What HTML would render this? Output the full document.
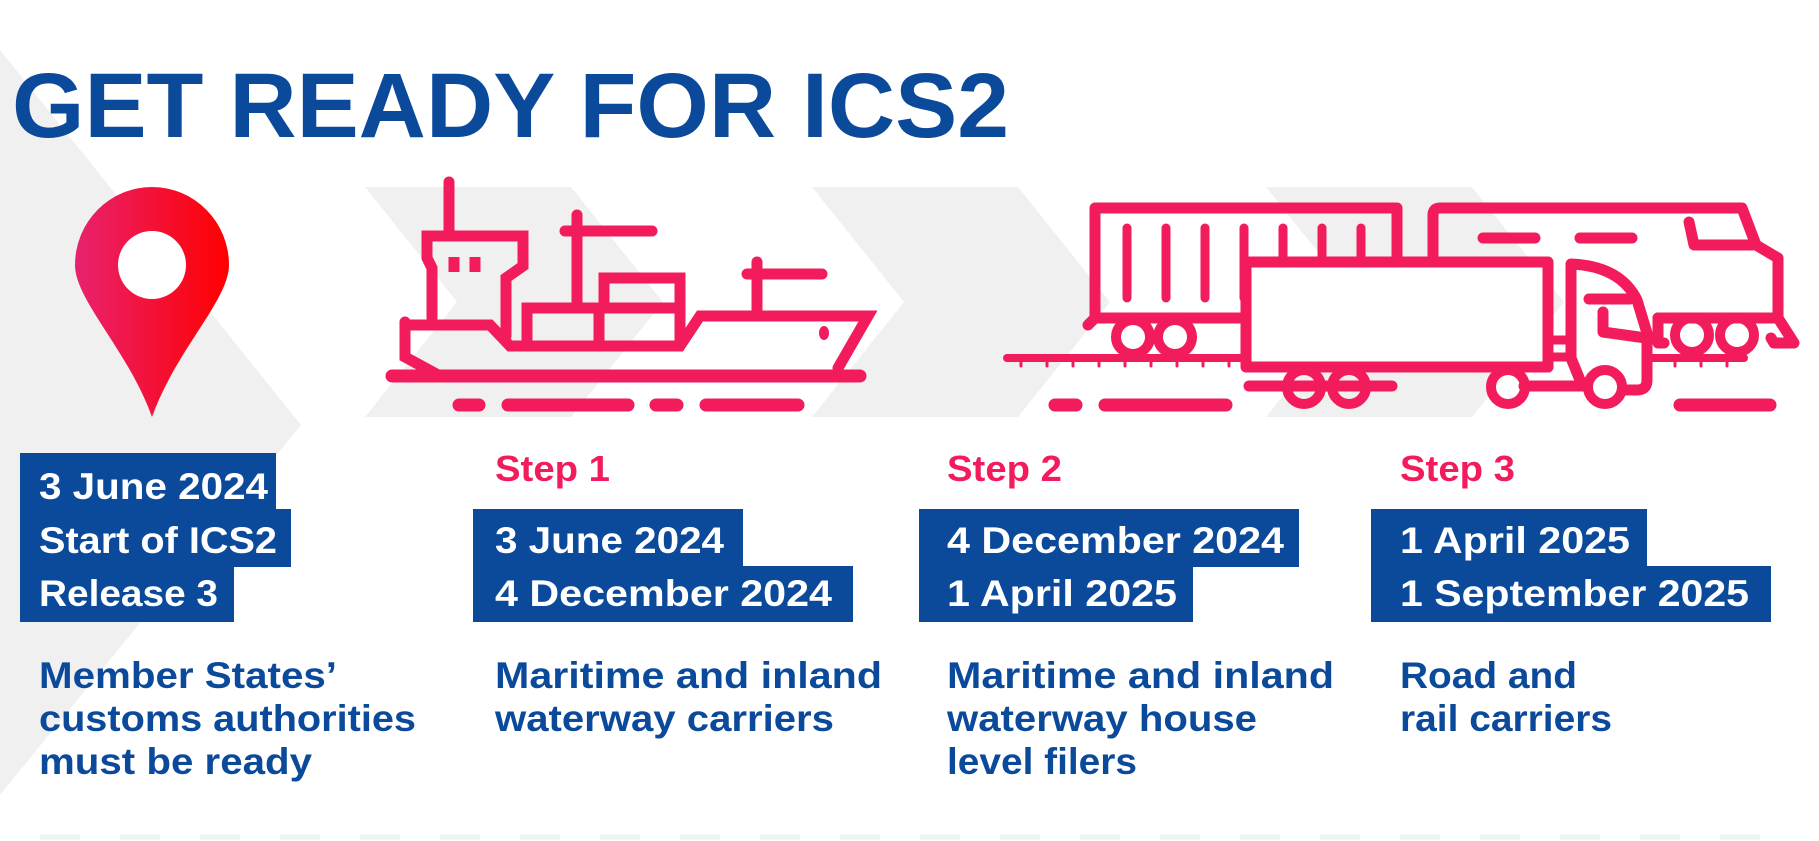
<!DOCTYPE html>
<html><head><meta charset="utf-8"><style>
html,body{margin:0;padding:0;background:#fff;}
svg{display:block;}
text{font-family:"Liberation Sans",Arial,sans-serif;font-weight:bold;}
</style></head><body>
<svg width="1819" height="841" viewBox="0 0 1819 841" xmlns="http://www.w3.org/2000/svg">
<defs>
<linearGradient id="pg" x1="0" x2="1" y1="0" y2="0"><stop offset="0" stop-color="#e8226f"/><stop offset="1" stop-color="#ff0000"/></linearGradient>
</defs>
<rect width="1819" height="841" fill="#fff"/>
<polygon points="0,50 301,425 0,795" fill="#f0f0f0"/>
<polygon points="365,187 571,187 663,302 571,417 365,417 457,302" fill="#f0f0f0"/>
<polygon points="812,187 1018,187 1110,302 1018,417 812,417 904,302" fill="#f0f0f0"/>
<polygon points="1266,187 1472,187 1564,302 1472,417 1266,417 1358,302" fill="#f0f0f0"/>
<g stroke="#f2f2f2" stroke-width="5">
<line x1="40" y1="837" x2="1780" y2="837" stroke-dasharray="40 40"/>
</g>
<text x="12" y="137" font-size="92" fill="#0b4a9b" textLength="997" lengthAdjust="spacingAndGlyphs">GET READY FOR ICS2</text>
<path d="M152 417 C128 350 75 300 75 265 A77 78 0 1 1 229 265 C229 300 176 350 152 417 Z" fill="url(#pg)"/>
<circle cx="152" cy="265" r="34" fill="#fff"/>
<g fill="none" stroke="#f21b5b" stroke-width="11" stroke-linecap="round" stroke-linejoin="miter">
<line x1="449" y1="182" x2="449" y2="232"/>
<path d="M432 318 V268 L427 258 V236 H523 V266 L506 278 V336"/>
<line x1="454" y1="257" x2="454" y2="272" stroke-linecap="butt"/>
<line x1="475" y1="257" x2="475" y2="272" stroke-linecap="butt"/>
<path d="M405 325 H490 L510 346 H680 L700 316 H868 L838 368"/>
<path d="M405 322 V357 L440 376"/>
<line x1="392" y1="376" x2="860" y2="376" stroke-width="13"/>
<path d="M527 340 V308 H599 V340"/>
<path d="M604 308 V278 H680 V340"/>
<line x1="599" y1="308" x2="680" y2="308"/>
<line x1="577" y1="215" x2="577" y2="302"/>
<line x1="565" y1="231" x2="652" y2="231"/>
<line x1="757" y1="262" x2="757" y2="310"/>
<line x1="747" y1="274" x2="822" y2="274"/>
<g stroke-width="13">
<line x1="459" y1="405" x2="479" y2="405"/>
<line x1="508" y1="405" x2="628" y2="405"/>
<line x1="656" y1="405" x2="677" y2="405"/>
<line x1="706" y1="405" x2="798" y2="405"/>
</g>
</g>
<ellipse cx="824" cy="333" rx="5" ry="7" fill="#f21b5b"/>
<g fill="none" stroke="#f21b5b" stroke-width="11" stroke-linecap="round" stroke-linejoin="round">
<path d="M1095 318 V208 H1397 V258"/>
<line x1="1095" y1="318" x2="1246" y2="318"/>
<line x1="1088" y1="325" x2="1095" y2="318"/>
<g stroke-width="9">
<line x1="1127" y1="228" x2="1127" y2="298"/>
<line x1="1166" y1="228" x2="1166" y2="298"/>
<line x1="1205" y1="228" x2="1205" y2="298"/>
<line x1="1244" y1="228" x2="1244" y2="298"/>
<line x1="1283" y1="228" x2="1283" y2="258"/>
<line x1="1322" y1="228" x2="1322" y2="258"/>
<line x1="1361" y1="228" x2="1361" y2="258"/>
</g>
<circle cx="1133" cy="337" r="17" stroke-width="10"/>
<circle cx="1175" cy="337" r="17" stroke-width="10"/>
<line x1="1007" y1="358" x2="1246" y2="358" stroke-width="8"/>
<line x1="1653" y1="358" x2="1744" y2="358" stroke-width="8"/>
<g stroke-width="3">
<line x1="1021" y1="360" x2="1021" y2="366"/><line x1="1047" y1="360" x2="1047" y2="366"/><line x1="1073" y1="360" x2="1073" y2="366"/><line x1="1099" y1="360" x2="1099" y2="366"/><line x1="1125" y1="360" x2="1125" y2="366"/><line x1="1151" y1="360" x2="1151" y2="366"/><line x1="1177" y1="360" x2="1177" y2="366"/><line x1="1203" y1="360" x2="1203" y2="366"/><line x1="1229" y1="360" x2="1229" y2="366"/>
<line x1="1675" y1="360" x2="1675" y2="366"/><line x1="1701" y1="360" x2="1701" y2="366"/><line x1="1727" y1="360" x2="1727" y2="366"/>
</g>
<path d="M1433 258 V215 Q1433 208 1440 208 H1742 L1756 245 L1778 258 V317"/>
<line x1="1658" y1="318" x2="1778" y2="318"/>
<path d="M1658 318 V343 H1664"/>
<path d="M1689 222 L1694 245 H1752"/>
<line x1="1483" y1="238" x2="1535" y2="238"/>
<line x1="1580" y1="238" x2="1632" y2="238"/>
<circle cx="1692" cy="335" r="17" stroke-width="10"/>
<circle cx="1737" cy="335" r="17" stroke-width="10"/>
<path d="M1778 318 L1794 343 H1774 L1771 338"/>
<rect x="1246" y="262" width="302" height="105" fill="#fff"/>
<line x1="1249" y1="386" x2="1392" y2="386"/>
<circle cx="1304" cy="387" r="17" stroke-width="10"/>
<circle cx="1349" cy="387" r="17" stroke-width="10"/>
<path d="M1571 358 V264 Q1620 266 1637 300 L1647 333 V380 Q1647 390 1637 390 H1625"/>
<line x1="1548" y1="340" x2="1571" y2="340" stroke-width="9"/>
<line x1="1548" y1="357" x2="1571" y2="357" stroke-width="9"/>
<line x1="1571" y1="358" x2="1582" y2="385"/>
<line x1="1589" y1="299" x2="1630" y2="299"/>
<path d="M1603 312 V332 L1646 338"/>
<line x1="1524" y1="386" x2="1586" y2="386"/>
<line x1="1548" y1="367" x2="1512" y2="367"/>
<circle cx="1508" cy="387" r="17" stroke-width="10"/>
<circle cx="1605" cy="387" r="17" stroke-width="10"/>
<g stroke-width="13">
<line x1="1055" y1="405" x2="1076" y2="405"/>
<line x1="1105" y1="405" x2="1226" y2="405"/>
<line x1="1680" y1="405" x2="1770" y2="405"/>
</g>
</g>
<g fill="#0b4a9b">
<rect x="20" y="453" width="256" height="57"/>
<rect x="20" y="509" width="271" height="58"/>
<rect x="20" y="566" width="214" height="56"/>
<rect x="473" y="509" width="270" height="58"/>
<rect x="473" y="566" width="380" height="56"/>
<rect x="919" y="509" width="380" height="58"/>
<rect x="919" y="566" width="274" height="56"/>
<rect x="1371" y="509" width="276" height="58"/>
<rect x="1371" y="566" width="400" height="56"/>
</g>
<g fill="#fff" font-size="37">
<text x="39" y="499" textLength="229" lengthAdjust="spacingAndGlyphs">3 June 2024</text>
<text x="39" y="553" textLength="238" lengthAdjust="spacingAndGlyphs">Start of ICS2</text>
<text x="39" y="606" textLength="179" lengthAdjust="spacingAndGlyphs">Release 3</text>
<text x="495" y="553" textLength="229" lengthAdjust="spacingAndGlyphs">3 June 2024</text>
<text x="495" y="606" textLength="337" lengthAdjust="spacingAndGlyphs">4 December 2024</text>
<text x="947" y="553" textLength="337" lengthAdjust="spacingAndGlyphs">4 December 2024</text>
<text x="947" y="606" textLength="230" lengthAdjust="spacingAndGlyphs">1 April 2025</text>
<text x="1400" y="553" textLength="230" lengthAdjust="spacingAndGlyphs">1 April 2025</text>
<text x="1400" y="606" textLength="349" lengthAdjust="spacingAndGlyphs">1 September 2025</text>
</g>
<g fill="#f21b5b" font-size="36">
<text x="495" y="481" textLength="115" lengthAdjust="spacingAndGlyphs">Step 1</text>
<text x="947" y="481" textLength="115" lengthAdjust="spacingAndGlyphs">Step 2</text>
<text x="1400" y="481" textLength="115" lengthAdjust="spacingAndGlyphs">Step 3</text>
</g>
<g fill="#0b4a9b" font-size="37">
<text x="39" y="688" textLength="298" lengthAdjust="spacingAndGlyphs">Member States’</text>
<text x="39" y="731" textLength="377" lengthAdjust="spacingAndGlyphs">customs authorities</text>
<text x="39" y="774" textLength="273" lengthAdjust="spacingAndGlyphs">must be ready</text>
<text x="495" y="688" textLength="387" lengthAdjust="spacingAndGlyphs">Maritime and inland</text>
<text x="495" y="731" textLength="339" lengthAdjust="spacingAndGlyphs">waterway carriers</text>
<text x="947" y="688" textLength="387" lengthAdjust="spacingAndGlyphs">Maritime and inland</text>
<text x="947" y="731" textLength="310" lengthAdjust="spacingAndGlyphs">waterway house</text>
<text x="947" y="774" textLength="190" lengthAdjust="spacingAndGlyphs">level filers</text>
<text x="1400" y="688" textLength="177" lengthAdjust="spacingAndGlyphs">Road and</text>
<text x="1400" y="731" textLength="212" lengthAdjust="spacingAndGlyphs">rail carriers</text>
</g>
</svg>
</body></html>
